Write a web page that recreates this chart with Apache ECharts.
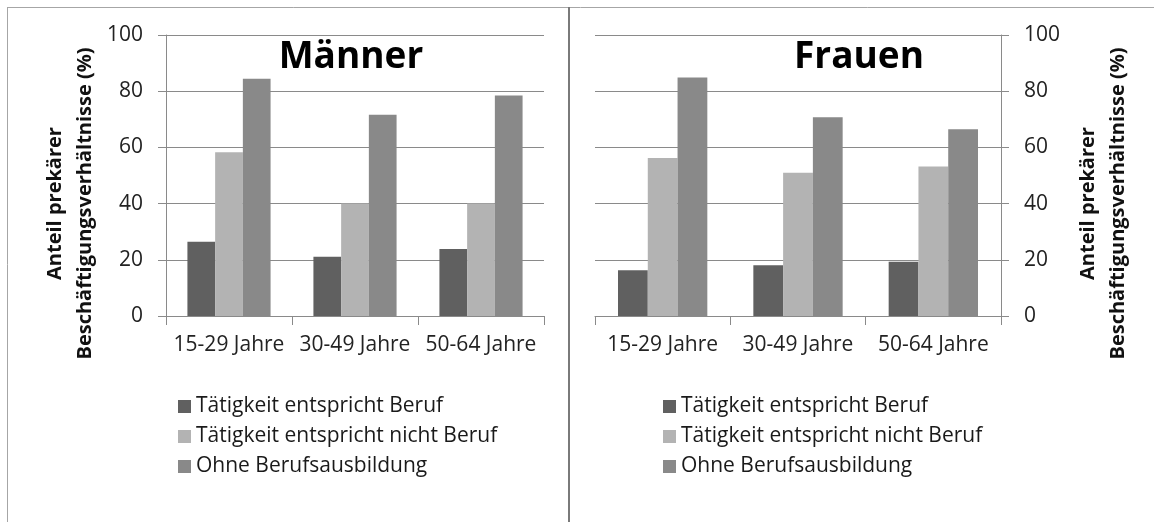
<!DOCTYPE html>
<html>
<head>
<meta charset="utf-8">
<script src="https://cdn.jsdelivr.net/npm/echarts@6/dist/echarts.min.js"></script>
<style>
    html, body { margin: 0; padding: 0; background: #fff; }
    #chart { width: 1154px; height: 522px; }
</style>
</head>
<body>
<div id="chart"></div>
<script>
// Altersgruppen
var categories = ['15-29 Jahre', '30-49 Jahre', '50-64 Jahre'];
var seriesNames = ['Tätigkeit entspricht Beruf', 'Tätigkeit entspricht nicht Beruf', 'Ohne Berufsausbildung'];
var seriesColors = ['#606060', '#b3b3b3', '#898989'];

// Anteil prekärer Beschäftigung in %
var maennerEntspricht = [26.4, 21.1, 23.8];
var maennerNicht = [58.3, 40.0, 40.0];
var maennerOhne = [84.4, 71.6, 78.5];

var frauenEntspricht = [16.3, 18.1, 19.3];
var frauenNicht = [56.2, 51.0, 53.2];
var frauenOhne = [84.9, 70.7, 66.5];

var yMin = 0, yMax = 100, yStep = 20;
var yName = 'Anteil prekärer\nBeschäftigungsverhältnisse (%)';

var font = 'Open Sans';
var lineCol = '#8a8a8a';
var textCol = '#222';

function makeYAxis(idx, pos, gap) {
    return {
        type: 'value',
        gridIndex: idx,
        position: pos,
        min: yMin,
        max: yMax,
        interval: yStep,
        name: yName,
        nameLocation: 'middle',
        nameRotate: 90,
        nameGap: gap,
        nameTextStyle: {
            fontFamily: font, fontWeight: 'bold', fontSize: 20,
            color: '#111', lineHeight: 30, align: 'center',
            padding: [0, 56, 0, 0]   // Name etwas nach unten schieben
        },
        axisLine: { show: true, lineStyle: { color: lineCol, width: 1 } },
        axisTick: { show: true, length: 8, lineStyle: { color: lineCol } },
        axisLabel: { margin: 23, fontFamily: font, fontSize: 21, color: textCol },
        splitLine: { show: true, lineStyle: { color: lineCol, width: 1 } }
    };
}

function makeXAxis(idx) {
    return {
        type: 'category',
        gridIndex: idx,
        data: categories,
        axisLine: { show: true, lineStyle: { color: lineCol, width: 1 } },
        axisTick: { show: true, length: 9, lineStyle: { color: lineCol } },
        axisLabel: { margin: 19, fontFamily: font, fontSize: 21, color: textCol, interval: 0 }
    };
}

function makeBar(name, data, idx, color) {
    return {
        name: name,
        type: 'bar',
        xAxisIndex: idx,
        yAxisIndex: idx,
        data: data,
        barGap: '0%',
        barCategoryGap: '34%',
        itemStyle: { color: color },
        animation: false
    };
}

function makeLegend(left) {
    return {
        orient: 'vertical',
        left: left,
        top: 396,
        padding: 0,
        itemWidth: 13,
        itemHeight: 13,
        itemGap: 9,
        icon: 'rect',
        data: seriesNames,
        textStyle: { fontFamily: font, fontSize: 21, color: '#1a1a1a', lineHeight: 21 }
    };
}

var option = {
    backgroundColor: '#fff',
    animation: false,
    title: [
        { text: 'Männer', left: 351, top: 57, padding: 0, textAlign: 'center', textVerticalAlign: 'middle',
          textStyle: { fontFamily: font, fontWeight: 'bold', fontSize: 37, color: '#000' } },
        { text: 'Frauen', left: 859, top: 57, padding: 0, textAlign: 'center', textVerticalAlign: 'middle',
          textStyle: { fontFamily: font, fontWeight: 'bold', fontSize: 37, color: '#000' } }
    ],
    legend: [makeLegend(178), makeLegend(663)],
    grid: [
        { left: 166, top: 35, width: 378, height: 281, outerBoundsMode: 'none', containLabel: false },
        { left: 595, top: 35, width: 406, height: 281, outerBoundsMode: 'none', containLabel: false }
    ],
    xAxis: [makeXAxis(0), makeXAxis(1)],
    yAxis: [makeYAxis(0, 'left', 66), makeYAxis(1, 'right', 72)],
    series: [
        makeBar(seriesNames[0], maennerEntspricht, 0, seriesColors[0]),
        makeBar(seriesNames[1], maennerNicht, 0, seriesColors[1]),
        makeBar(seriesNames[2], maennerOhne, 0, seriesColors[2]),
        makeBar(seriesNames[0], frauenEntspricht, 1, seriesColors[0]),
        makeBar(seriesNames[1], frauenNicht, 1, seriesColors[1]),
        makeBar(seriesNames[2], frauenOhne, 1, seriesColors[2])
    ],
    // Rahmen um die beiden Diagramme
    graphic: [
        { type: 'line', shape: { x1: 7, y1: 7.5, x2: 1154, y2: 7.5 }, style: { stroke: '#a6a6a6', lineWidth: 1 } },
        { type: 'line', shape: { x1: 7.5, y1: 7, x2: 7.5, y2: 522 }, style: { stroke: '#a6a6a6', lineWidth: 1 } },
        { type: 'line', shape: { x1: 569, y1: 7, x2: 569, y2: 522 }, style: { stroke: '#7a7a7a', lineWidth: 2 } }
    ]
};

var myChart = echarts.init(document.getElementById('chart'));
myChart.setOption(option, true);
</script>
</body>
</html>
